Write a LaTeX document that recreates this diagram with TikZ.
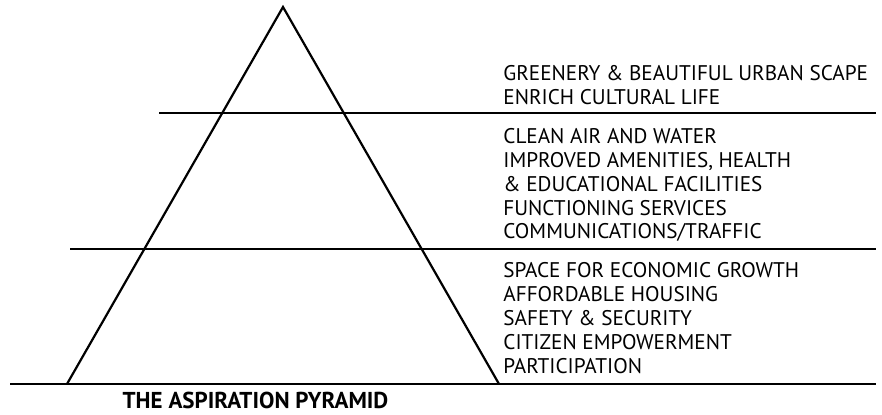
\documentclass[tikz,border=0pt]{standalone}
\usepackage{fontspec}
\setmainfont{PT Sans}
\usetikzlibrary{calc}
\tikzset{
  stroke/.style={line width=1.1pt,line cap=butt},
  item/.style={anchor=base west,inner sep=0,font=\fontsize{10.6}{12}\selectfont},
  caption/.style={anchor=base,inner sep=0,font=\fontsize{11.5}{12}\selectfont\bfseries},
}

\begin{document}
\begin{tikzpicture}[x=0.5pt,y=-0.5pt]
  \useasboundingbox (0,0) rectangle (882,415);
  \def\E{876}
  \def\X{503}
  \coordinate (apex) at (283,7);
  \coordinate (bl) at (67,384);
  \coordinate (br) at (499,384);

  % PYRAMID
  \draw[stroke,line join=miter] (bl) -- (apex) -- (br);
  \draw[stroke] (159,113) coordinate (u1) -- (\E,113) coordinate (u2);
  \draw[stroke] (70,249) coordinate (m1) -- (\E,249) coordinate (m2);
  \draw[stroke] (10,384) coordinate (g1) -- (\E,384) coordinate (g2);

  % LABELS
  \foreach \t [count=\i, evaluate={\y=81+(\i-1)*23.5;}] in
    {{GREENERY \& BEAUTIFUL URBAN SCAPE},{ENRICH CULTURAL LIFE}}{
    \node[item] (top-\i) at (\X,\y) {\t};
  }
  \foreach \t [count=\i, evaluate={\y=144+(\i-1)*23.7;}] in
    {{CLEAN AIR AND WATER},{IMPROVED AMENITIES, HEALTH},
     {\& EDUCATIONAL FACILITIES},{FUNCTIONING SERVICES},
     {COMMUNICATIONS/TRAFFIC}}{
    \node[item] (mid-\i) at (\X,\y) {\t};
  }
  \foreach \t [count=\i, evaluate={\y=278+(\i-1)*23.9;}] in
    {{SPACE FOR ECONOMIC GROWTH},{AFFORDABLE HOUSING},
     {SAFETY \& SECURITY},{CITIZEN EMPOWERMENT},{PARTICIPATION}}{
    \node[item] (low-\i) at (\X,\y) {\t};
  }

  \node[caption] (title) at (255.5,409) {THE ASPIRATION PYRAMID};
\end{tikzpicture}
\end{document}
